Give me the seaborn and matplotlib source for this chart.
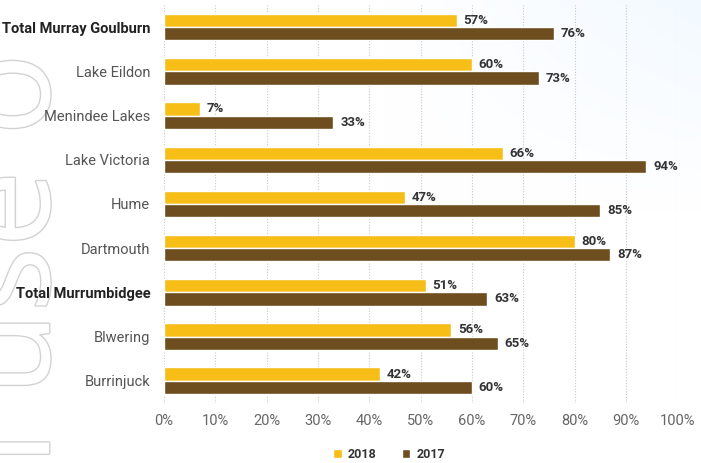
import matplotlib
matplotlib.use("Agg")
import matplotlib.pyplot as plt
import matplotlib.patheffects as pe
import numpy as np
import pandas as pd
import seaborn as sns

# Storage levels by reservoir, share of capacity (%)
storages = ["Total Murray Goulburn", "Lake Eildon", "Menindee Lakes", "Lake Victoria",
            "Hume", "Dartmouth", "Total Murrumbidgee", "Blwering", "Burrinjuck"]
level_2018 = [57, 60, 7, 66, 47, 80, 51, 56, 42]
level_2017 = [76, 73, 33, 94, 85, 87, 63, 65, 60]
years = ["2018", "2017"]
x_ticks = [0, 10, 20, 30, 40, 50, 60, 70, 80, 90, 100]
bold_rows = {"Total Murray Goulburn", "Total Murrumbidgee"}

palette = {"2018": "#F6BE17", "2017": "#6E4E1E"}

df = pd.DataFrame({
    "storage": storages * 2,
    "year": [years[0]] * len(storages) + [years[1]] * len(storages),
    "level": level_2018 + level_2017,
})

sns.set_theme(style="white")
plt.rcParams["font.family"] = ["Roboto", "DejaVu Sans"]

fig = plt.figure(figsize=(7.01, 4.63), dpi=100)

# soft light-blue wash in the upper right of the background
bg = fig.add_axes([0, 0, 1, 1], zorder=-5)
yy, xx = np.mgrid[0:1:200j, 0:1:300j]
wash = np.clip((xx - 0.55) * 1.6, 0, 1) * np.clip((yy - 0.55) * 2.2, 0, 1)
rgba = np.ones((200, 300, 4))
rgba[..., 0] = 1 - 0.07 * wash
rgba[..., 1] = 1 - 0.03 * wash
rgba[..., 2] = 1.0
bg.imshow(rgba, extent=[0, 1, 0, 1], origin="lower", aspect="auto")
bg.set_axis_off()

# outlined decorative lettering running up the left edge
deco = fig.text(0.070, -0.005, "l use o", rotation=90, rotation_mode="anchor",
                fontsize=98, family="Open Sans", color="white",
                ha="left", va="baseline", zorder=-4)
deco.set_path_effects([pe.Stroke(linewidth=2.0, foreground="#D2D2D2"), pe.Normal()])

ax = fig.add_axes([0.234, 0.130, 0.732, 0.859])
ax.patch.set_alpha(0)
sns.barplot(data=df, y="storage", x="level", hue="year", order=storages,
            hue_order=years, palette=palette, orient="h", width=0.6,
            saturation=1, ax=ax, legend=True)

for cont in ax.containers:
    ax.bar_label(cont, labels=[f"{v:.0f}%" for v in cont.datavalues], padding=5,
                 fontsize=9.5, fontweight="bold", color="#333333")

ax.set_xlim(0, 100)
ax.set_ylim(len(storages) - 0.5, -0.5)
ax.set_xticks(x_ticks)
ax.set_xticklabels([f"{t}%" for t in x_ticks])
ax.tick_params(axis="x", length=0, pad=8, labelsize=10.5, labelcolor="#666666")
ax.tick_params(axis="y", length=0, pad=10, labelsize=10.5)
for lab in ax.get_yticklabels():
    if lab.get_text() in bold_rows:
        lab.set_fontweight("bold")
        lab.set_color("#222222")
    else:
        lab.set_color("#555555")
ax.set_xlabel("")
ax.set_ylabel("")
for s in ax.spines.values():
    s.set_visible(False)
ax.grid(axis="x", color="#C8C8C8", linestyle=(0, (1, 1.5)), linewidth=0.8)
ax.set_axisbelow(True)

handles, labels = ax.get_legend_handles_labels()
ax.legend_.remove()
fig.legend(handles, labels, loc="center", bbox_to_anchor=(0.555, 0.018), ncol=2,
           frameon=False, handlelength=0.7, handleheight=0.7, handletextpad=0.5,
           columnspacing=2.0, prop={"size": 9, "weight": "bold"},
           labelcolor="#333333")

fig.savefig("out.png", dpi=100)
